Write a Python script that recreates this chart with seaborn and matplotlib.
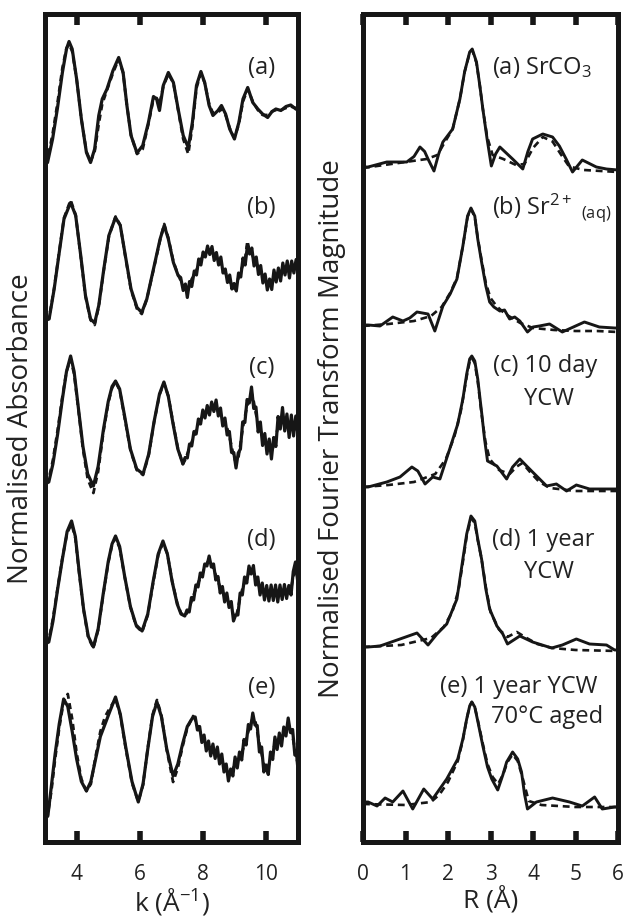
import numpy as np
import pandas as pd
import seaborn as sns
import matplotlib.pyplot as plt

sns.set_theme(style="white")
plt.rcParams['font.family'] = ['Open Sans', 'DejaVu Sans']
plt.rcParams['mathtext.fontset'] = 'custom'
plt.rcParams['mathtext.rm'] = 'Open Sans'
plt.rcParams['mathtext.it'] = 'Open Sans:italic'

ink = '#161616'

# ---------------- EXAFS (k space), chi values per sample ----------------
k_a = [3.00, 3.08, 3.24, 3.39, 3.55, 3.68, 3.76, 3.86, 4.00, 4.15, 4.31, 4.44, 4.57, 4.70, 4.81, 4.96, 5.15, 5.33, 5.47, 5.59,
       5.72, 5.91, 6.09, 6.27, 6.43, 6.53, 6.62, 6.74, 6.90, 7.06, 7.21, 7.37, 7.53, 7.66, 7.79, 7.93, 8.05, 8.19, 8.31, 8.47,
       8.58, 8.71, 8.84, 8.99, 9.13, 9.26, 9.41, 9.57, 9.73, 9.88, 10.04, 10.18, 10.30, 10.46, 10.62, 10.77, 10.93, 11.00]
chi_a = [-1.20, -1.17, -0.70, -0.10, 0.63, 1.10, 1.25, 1.10, 0.50, -0.30, -0.97, -1.17, -0.90, -0.23, 0.10, 0.30, 0.67, 0.93, 0.63, -0.03,
         -0.63, -0.98, -0.83, -0.37, 0.15, 0.10, -0.13, 0.37, 0.63, 0.43, -0.10, -0.63, -0.87, -0.37, 0.37, 0.65, 0.43, -0.03, -0.23, -0.13,
         -0.03, -0.20, -0.50, -0.70, -0.37, 0.10, 0.33, 0.03, -0.10, -0.20, -0.27, -0.15, -0.10, -0.13, -0.05, -0.02, -0.10, -0.12]
fit_a = [-1.20, -1.10, -0.60, 0.00, 0.72, 1.12, 1.20, 1.05, 0.50, -0.30, -0.95, -1.15, -0.95, -0.40, 0.00, 0.28, 0.62, 0.90, 0.62, -0.03,
         -0.62, -1.00, -0.90, -0.40, 0.10, 0.12, 0.00, 0.35, 0.60, 0.42, -0.12, -0.70, -1.00, -0.45, 0.32, 0.62, 0.42, 0.00, -0.18, -0.17,
         -0.10, -0.22, -0.48, -0.68, -0.40, 0.05, 0.30, 0.05, -0.12, -0.22, -0.22, -0.15, -0.12, -0.12, -0.08, -0.05, -0.08, -0.10]

k_b = [3.00, 3.13, 3.29, 3.45, 3.60, 3.81, 3.97, 4.13, 4.28, 4.44, 4.57, 4.70, 4.86, 5.02, 5.23, 5.38, 5.54, 5.72, 5.91, 6.06,
       6.22, 6.43, 6.64, 6.77, 6.90, 7.06, 7.21,
       7.29, 7.37, 7.44, 7.50, 7.57, 7.64, 7.72, 7.79, 7.86, 7.93, 8.00, 8.07, 8.14, 8.21, 8.28, 8.35, 8.42, 8.49, 8.56, 8.63,
       8.70, 8.77, 8.84, 8.91, 8.98, 9.05, 9.12, 9.19, 9.26, 9.33, 9.40, 9.47, 9.54, 9.61, 9.68, 9.75, 9.82, 9.89, 9.96, 10.03,
       10.10, 10.17, 10.24, 10.31, 10.38, 10.45, 10.52, 10.59, 10.66, 10.73, 10.80, 10.87, 10.94, 11.00]
chi_b = [-1.13, -1.10, -0.50, 0.23, 0.90, 1.23, 0.97, 0.17, -0.63, -1.10, -1.18, -0.83, -0.10, 0.57, 0.93, 0.77, 0.17, -0.50, -0.87, -0.97,
         -0.70, -0.10, 0.50, 0.77, 0.50, 0.03, -0.23,
         -0.27, -0.53, -0.40, -0.67, -0.35, -0.45, -0.14, -0.22, 0.10, -0.02, 0.24, 0.14, 0.36, 0.19, 0.35, 0.07, 0.23, -0.02, 0.14, -0.18,
         -0.10, -0.37, -0.22, -0.50, -0.39, -0.54, -0.18, -0.26, 0.12, -0.02, 0.36, 0.20, 0.32, -0.04, 0.14, -0.21, -0.03, -0.38, -0.20, -0.52,
         -0.30, -0.51, -0.12, -0.36, -0.08, -0.34, 0.02, -0.22, 0.06, -0.28, 0.06, -0.18, 0.09, -0.16]
fit_b = [-1.13, -1.08, -0.48, 0.25, 0.92, 1.28, 0.98, 0.15, -0.65, -1.12, -1.22, -0.85, -0.12, 0.55, 0.95, 0.78, 0.15, -0.52, -0.90, -1.00,
         -0.70, -0.12, 0.48, 0.80, 0.52, 0.05, -0.22,
         -0.33, -0.43, -0.58, -0.55, -0.45, -0.30, -0.22, -0.12, -0.02, 0.10, 0.14, 0.20, 0.28, 0.27, 0.25, 0.19, 0.13, 0.08, 0.02, -0.08,
         -0.18, -0.25, -0.36, -0.40, -0.49, -0.40, -0.28, -0.14, -0.02, 0.12, 0.46, 0.26, 0.20, 0.10, 0.02, -0.07, -0.15, -0.24, -0.32, -0.38,
         -0.44, -0.35, -0.26, -0.22, -0.24, -0.22, -0.14, -0.08, -0.10, -0.14, -0.10, -0.04, -0.05, -0.08]

k_c = [3.00, 3.12, 3.25, 3.40, 3.55, 3.68, 3.81, 3.92, 4.05, 4.20, 4.35, 4.53, 4.68, 4.85, 5.00, 5.12, 5.23, 5.36, 5.52, 5.70,
       5.90, 6.10, 6.28, 6.45, 6.62, 6.76, 6.90, 7.05, 7.20, 7.36,
       7.43, 7.50, 7.57, 7.64, 7.71, 7.78, 7.85, 7.92, 7.99, 8.06, 8.13, 8.20, 8.27, 8.34, 8.41, 8.48, 8.55, 8.62, 8.69, 8.76,
       8.83, 8.90, 8.97, 9.04, 9.11, 9.18, 9.25, 9.32, 9.39, 9.46, 9.53, 9.60, 9.67, 9.74, 9.81, 9.88, 9.95, 10.02, 10.09, 10.16,
       10.23, 10.30, 10.37, 10.44, 10.51, 10.58, 10.65, 10.72, 10.79, 10.86, 10.93, 11.00]
chi_c = [-1.20, -1.16, -0.80, -0.20, 0.50, 1.05, 1.36, 1.05, 0.35, -0.45, -1.00, -1.24, -0.85, -0.10, 0.45, 0.75, 0.86, 0.70, 0.15, -0.50,
         -0.90, -1.00, -0.60, 0.05, 0.60, 0.84, 0.55, 0.00, -0.50, -0.80,
         -0.67, -0.68, -0.40, -0.44, -0.15, -0.20, 0.10, 0.00, 0.28, 0.12, 0.37, 0.18, 0.44, 0.25, 0.48, 0.16, 0.32, -0.04, 0.12, -0.22,
         -0.15, -0.57, -0.57, -0.88, -0.58, -0.50, 0.04, 0.03, 0.49, 0.42, 0.74, 0.31, 0.34, -0.16, 0.04, -0.43, -0.19, -0.60, -0.30, -0.70,
         -0.27, -0.45, 0.15, -0.10, 0.33, -0.14, 0.20, -0.27, 0.18, -0.24, 0.16, -0.22]
fit_c = [-1.20, -1.10, -0.72, -0.12, 0.55, 1.05, 1.30, 1.00, 0.32, -0.50, -1.10, -1.38, -0.95, -0.15, 0.42, 0.72, 0.84, 0.68, 0.12, -0.52,
         -0.92, -1.02, -0.62, 0.04, 0.58, 0.82, 0.56, 0.02, -0.48, -0.80,
         -0.72, -0.60, -0.48, -0.36, -0.25, -0.12, 0.00, 0.10, 0.18, 0.22, 0.25, 0.28, 0.32, 0.35, 0.36, 0.30, 0.20, 0.10, 0.00, -0.08,
         -0.25, -0.45, -0.65, -0.78, -0.70, -0.40, -0.10, 0.15, 0.35, 0.52, 0.62, 0.45, 0.20, 0.00, -0.12, -0.25, -0.35, -0.42, -0.48, -0.54,
         -0.45, -0.25, -0.05, 0.10, 0.15, 0.08, 0.00, -0.05, -0.04, -0.02, -0.04, -0.06]

k_d = [3.00, 3.12, 3.25, 3.40, 3.55, 3.70, 3.84, 3.96, 4.08, 4.22, 4.37, 4.53, 4.68, 4.84, 5.00, 5.12, 5.23, 5.36, 5.52, 5.70,
       5.88, 6.07, 6.25, 6.42, 6.58, 6.73, 6.87, 7.02, 7.18, 7.30, 7.42,
       7.49, 7.56, 7.63, 7.70, 7.77, 7.84, 7.91, 7.98, 8.05, 8.12, 8.19, 8.26, 8.33, 8.40, 8.47, 8.54, 8.61, 8.68, 8.75, 8.82,
       8.89, 8.96, 9.03, 9.10, 9.17, 9.24, 9.31, 9.38, 9.45, 9.52, 9.59, 9.66, 9.73, 9.80, 9.87, 9.94, 10.01, 10.08, 10.15, 10.22,
       10.29, 10.36, 10.43, 10.50, 10.57, 10.64, 10.71, 10.78, 10.85, 10.92, 11.00]
chi_d = [-1.00, -0.96, -0.55, 0.10, 0.70, 1.25, 1.46, 1.15, 0.45, -0.30, -0.85, -1.06, -0.70, 0.00, 0.65, 1.00, 1.16, 0.95, 0.35, -0.25,
         -0.62, -0.74, -0.40, 0.25, 0.80, 1.06, 0.80, 0.25, -0.20, -0.40, -0.44,
         -0.32, -0.36, -0.07, -0.12, 0.18, 0.14, 0.42, 0.34, 0.60, 0.56, 0.76, 0.54, 0.60, 0.28, 0.35, 0.02, 0.15, -0.16, 0.02, -0.27,
         -0.15, -0.54, -0.42, -0.42, 0.02, -0.02, 0.34, 0.22, 0.56, 0.40, 0.57, 0.18, 0.34, -0.02, 0.22, -0.12, 0.17, -0.14, 0.18, -0.13,
         0.18, -0.16, 0.18, -0.11, 0.19, -0.09, 0.17, -0.02, 0.45, 0.64, 0.20]
fit_d = [-1.00, -0.92, -0.50, 0.12, 0.72, 1.22, 1.40, 1.12, 0.42, -0.32, -0.88, -1.08, -0.72, -0.02, 0.62, 0.98, 1.12, 0.92, 0.34, -0.26,
         -0.64, -0.76, -0.42, 0.22, 0.78, 1.02, 0.80, 0.26, -0.18, -0.38, -0.44,
         -0.38, -0.28, -0.15, -0.02, 0.10, 0.22, 0.32, 0.42, 0.52, 0.62, 0.68, 0.62, 0.50, 0.38, 0.25, 0.14, 0.05, -0.04, -0.10, -0.15,
         -0.25, -0.42, -0.48, -0.30, -0.08, 0.10, 0.22, 0.32, 0.42, 0.48, 0.45, 0.32, 0.20, 0.12, 0.08, 0.04, 0.03, 0.02, 0.02, 0.03,
         0.02, 0.00, 0.02, 0.03, 0.05, 0.05, 0.05, 0.10, 0.35, 0.50, 0.30]

k_e = [3.00, 3.09, 3.20, 3.32, 3.45, 3.59, 3.72, 3.86, 4.00, 4.15, 4.31, 4.45, 4.60, 4.75, 4.90, 5.05, 5.23, 5.38, 5.55, 5.75,
       5.95, 6.10, 6.25, 6.40, 6.54, 6.68, 6.85, 7.05, 7.20, 7.35, 7.50, 7.68,
       7.75, 7.82, 7.89, 7.96, 8.03, 8.10, 8.17, 8.24, 8.31, 8.38, 8.45, 8.52, 8.59, 8.66, 8.73, 8.80, 8.87, 8.94, 9.01, 9.08,
       9.15, 9.22, 9.29, 9.36, 9.43, 9.50, 9.57, 9.64, 9.71, 9.78, 9.85, 9.92, 9.99, 10.06, 10.13, 10.20, 10.27, 10.34, 10.41, 10.48,
       10.55, 10.62, 10.69, 10.76, 10.83, 10.90, 10.96, 11.00]
chi_e = [-1.20, -1.14, -0.55, 0.10, 0.70, 1.20, 1.05, 0.55, 0.00, -0.45, -0.64, -0.45, 0.00, 0.45, 0.70, 0.95, 1.24, 0.90, 0.25, -0.45,
         -0.86, -0.50, 0.20, 0.85, 1.14, 0.85, 0.20, -0.34, -0.10, 0.30, 0.65, 0.84,
         0.84, 0.58, 0.65, 0.33, 0.48, 0.16, 0.36, 0.06, 0.30, 0.01, 0.24, -0.10, 0.10, -0.26, -0.10, -0.44, -0.20, -0.34, 0.04, -0.18,
         0.14, -0.02, 0.39, 0.28, 0.69, 0.60, 0.92, 0.68, 0.67, 0.14, 0.24, -0.26, -0.12, -0.31, 0.14, -0.01, 0.44, 0.19, 0.52, 0.26,
         0.64, 0.46, 0.82, 0.53, 0.59, 0.08, 0.06, -0.22]
fit_e = [-1.20, -1.10, -0.65, 0.00, 0.62, 1.15, 1.30, 0.80, 0.12, -0.40, -0.64, -0.50, 0.05, 0.55, 0.85, 1.02, 1.20, 0.88, 0.22, -0.48,
         -0.85, -0.52, 0.22, 0.88, 1.18, 0.88, 0.18, -0.46, -0.18, 0.25, 0.62, 0.86,
         0.78, 0.68, 0.55, 0.45, 0.36, 0.28, 0.24, 0.20, 0.18, 0.15, 0.10, 0.04, -0.04, -0.12, -0.22, -0.30, -0.30, -0.20, -0.10, -0.04,
         0.02, 0.12, 0.25, 0.40, 0.55, 0.70, 0.82, 0.80, 0.55, 0.30, 0.10, -0.10, -0.22, -0.15, 0.00, 0.15, 0.30, 0.35, 0.38, 0.42,
         0.50, 0.60, 0.68, 0.65, 0.45, 0.20, 0.00, -0.10]

k_offsets = [14.76, 11.56, 8.36, 4.96, 1.66]
k_labels = ['(a)', '(b)', '(c)', '(d)', '(e)']
k_label_y = [15.50, 12.70, 9.50, 6.06, 3.10]

# ---------------- Fourier transform magnitude (R space) ----------------
R_a = [0.00, 0.12, 0.56, 1.03, 1.20, 1.34, 1.45, 1.53, 1.67, 1.78, 1.88, 2.11, 2.28, 2.39, 2.51, 2.57, 2.67, 2.75, 2.82, 2.92,
       3.02, 3.12, 3.22, 3.37, 3.52, 3.76, 3.88, 3.99, 4.23, 4.46, 4.62, 4.78, 4.93, 5.16, 5.49, 5.73, 6.00]
ft_a = [0.04, 0.04, 0.14, 0.14, 0.25, 0.44, 0.35, 0.20, -0.04, 0.30, 0.54, 0.80, 1.40, 1.94, 2.34, 2.40, 2.14, 1.66, 1.20, 0.60,
        0.06, 0.30, 0.44, 0.32, 0.20, 0.00, 0.35, 0.60, 0.70, 0.64, 0.46, 0.20, -0.06, 0.18, 0.04, 0.00, -0.02]
Rf_a = [0.00, 0.50, 1.00, 1.50, 1.75, 1.90, 2.11, 2.28, 2.39, 2.51, 2.57, 2.67, 2.75, 2.82, 2.92, 3.05, 3.30, 3.60, 3.80, 4.00,
        4.23, 4.46, 4.65, 4.85, 5.20, 5.60, 6.00]
ftf_a = [0.02, 0.08, 0.14, 0.20, 0.28, 0.50, 0.80, 1.40, 1.94, 2.32, 2.38, 2.12, 1.66, 1.20, 0.65, 0.28, 0.20, 0.08, 0.10, 0.42,
         0.64, 0.55, 0.30, 0.05, -0.02, -0.04, -0.06]

R_b = [0.00, 0.12, 0.40, 0.70, 0.94, 1.10, 1.27, 1.53, 1.69, 1.88, 2.05, 2.21, 2.35, 2.46, 2.54, 2.63, 2.70, 2.79, 2.89, 2.98,
       3.08, 3.22, 3.33, 3.45, 3.57, 3.69, 3.87, 4.00, 4.15, 4.39, 4.69, 4.95, 5.21, 5.56, 5.92, 6.00]
ft_b = [0.08, 0.08, 0.06, 0.24, 0.16, 0.22, 0.34, 0.30, -0.04, 0.46, 0.70, 1.00, 1.66, 2.26, 2.42, 2.26, 1.80, 1.34, 0.86, 0.54,
        0.44, 0.36, 0.38, 0.20, 0.24, 0.16, -0.06, 0.04, 0.06, 0.10, -0.06, 0.04, 0.14, 0.04, 0.02, 0.02]
Rf_b = [0.00, 0.60, 1.20, 1.60, 1.85, 2.05, 2.21, 2.35, 2.46, 2.54, 2.63, 2.70, 2.79, 2.89, 3.00, 3.15, 3.35, 3.70, 4.00, 4.50,
        5.00, 5.50, 6.00]
ftf_b = [0.06, 0.10, 0.16, 0.26, 0.44, 0.72, 1.02, 1.66, 2.24, 2.40, 2.24, 1.82, 1.38, 0.92, 0.62, 0.45, 0.30, 0.12, 0.02, -0.02,
         -0.04, -0.04, -0.06]

R_c = [0.00, 0.12, 0.56, 0.87, 1.15, 1.29, 1.46, 1.64, 1.81, 2.04, 2.23, 2.35, 2.44, 2.51, 2.56, 2.63, 2.70, 2.79, 2.86, 2.93,
       3.15, 3.38, 3.52, 3.69, 3.85, 3.99, 4.32, 4.55, 4.79, 5.02, 5.33, 5.92, 6.00]
ft_c = [0.04, 0.04, 0.14, 0.24, 0.44, 0.36, 0.10, 0.24, 0.20, 0.80, 1.30, 1.80, 2.30, 2.60, 2.66, 2.56, 2.20, 1.54, 1.00, 0.56,
        0.46, 0.20, 0.44, 0.60, 0.46, 0.34, 0.06, 0.10, -0.04, 0.08, 0.00, 0.00, 0.00]
Rf_c = [0.00, 0.60, 1.20, 1.70, 1.95, 2.15, 2.30, 2.44, 2.51, 2.56, 2.63, 2.70, 2.79, 2.88, 2.98, 3.20, 3.45, 3.62, 3.75, 3.95,
        4.15, 4.40, 5.00, 6.00]
ftf_c = [0.04, 0.08, 0.14, 0.30, 0.60, 1.05, 1.55, 2.25, 2.55, 2.62, 2.52, 2.15, 1.50, 0.95, 0.60, 0.38, 0.30, 0.45, 0.52, 0.32,
         0.14, 0.02, -0.04, -0.04]

R_d = [0.00, 0.12, 0.40, 0.87, 1.27, 1.53, 1.74, 1.97, 2.21, 2.35, 2.44, 2.54, 2.63, 2.70, 2.79, 2.89, 2.98, 3.15, 3.29, 3.40,
       3.69, 3.99, 4.44, 4.69, 5.02, 5.33, 5.73, 5.92, 6.00]
ft_d = [0.00, 0.00, 0.02, 0.16, 0.28, 0.04, 0.26, 0.46, 0.96, 1.76, 2.26, 2.62, 2.52, 2.16, 1.76, 1.16, 0.76, 0.42, 0.26, 0.06,
        0.22, 0.10, -0.02, 0.04, 0.16, 0.06, 0.04, -0.06, -0.06]
Rf_d = [0.00, 0.90, 1.60, 1.90, 2.10, 2.25, 2.35, 2.44, 2.54, 2.63, 2.70, 2.79, 2.89, 3.00, 3.20, 3.40, 3.62, 3.85, 4.10, 4.45,
        5.00, 6.00]
ftf_d = [0.00, 0.04, 0.18, 0.40, 0.70, 1.15, 1.70, 2.22, 2.58, 2.48, 2.14, 1.76, 1.20, 0.70, 0.35, 0.20, 0.30, 0.18, 0.06, -0.02,
         -0.06, -0.08]

R_e = [0.00, 0.12, 0.33, 0.52, 0.70, 0.94, 1.17, 1.43, 1.64, 1.97, 2.23, 2.35, 2.44, 2.51, 2.56, 2.63, 2.70, 2.82, 2.93, 3.03,
       3.17, 3.29, 3.38, 3.52, 3.64, 3.73, 3.80, 3.87, 4.08, 4.46, 4.86, 5.16, 5.45, 5.63, 5.92, 6.00]
ft_e = [0.10, 0.10, 0.02, 0.18, 0.10, 0.32, -0.04, 0.36, 0.16, 0.56, 0.96, 1.36, 1.76, 2.02, 2.10, 2.00, 1.72, 1.22, 0.80, 0.56,
        0.34, 0.64, 0.90, 1.10, 0.96, 0.70, 0.26, -0.04, 0.10, 0.18, 0.10, 0.02, 0.20, -0.04, 0.00, 0.00]
Rf_e = [0.00, 1.00, 1.60, 1.80, 2.00, 2.23, 2.35, 2.44, 2.51, 2.56, 2.63, 2.70, 2.82, 2.93, 3.05, 3.18, 3.30, 3.40, 3.52, 3.64,
        3.75, 3.90, 4.20, 5.00, 6.00]
ftf_e = [0.06, 0.04, 0.10, 0.25, 0.50, 0.92, 1.34, 1.76, 2.02, 2.10, 2.00, 1.74, 1.26, 0.86, 0.60, 0.46, 0.66, 0.90, 1.05, 0.92,
         0.60, 0.12, 0.04, 0.00, 0.00]

R_offsets = [13.46, 10.26, 7.06, 3.90, 0.70]

# figure
fig = plt.figure(figsize=(6.27, 9.2), dpi=100)
ax1 = fig.add_axes([45 / 627, 77 / 920, 253 / 627, 828 / 920])
ax2 = fig.add_axes([363 / 627, 77 / 920, 255 / 627, 828 / 920])

k_sets = [(k_a, chi_a, fit_a), (k_b, chi_b, fit_b), (k_c, chi_c, fit_c), (k_d, chi_d, fit_d), (k_e, chi_e, fit_e)]
for (k, dat, fit), off in zip(k_sets, k_offsets):
    sns.lineplot(x=k, y=np.array(fit) + off, ax=ax1, color=ink, lw=2.0,
                 linestyle=(0, (2.2, 1.6)), sort=False, estimator=None)
    sns.lineplot(x=k, y=np.array(dat) + off, ax=ax1, color=ink, lw=2.3,
                 sort=False, estimator=None)

R_sets = [(R_a, ft_a, Rf_a, ftf_a), (R_b, ft_b, Rf_b, ftf_b), (R_c, ft_c, Rf_c, ftf_c),
          (R_d, ft_d, Rf_d, ftf_d), (R_e, ft_e, Rf_e, ftf_e)]
for (r, dat, rf, fit), off in zip(R_sets, R_offsets):
    sns.lineplot(x=rf, y=np.array(fit) + off, ax=ax2, color=ink, lw=1.9,
                 linestyle=(0, (2.6, 1.8)), sort=False, estimator=None)
    sns.lineplot(x=r, y=np.array(dat) + off, ax=ax2, color=ink, lw=2.1,
                 sort=False, estimator=None)

for ax in (ax1, ax2):
    ax.set_ylim(0, 16.56)
    ax.set_yticks([])
    for s in ax.spines.values():
        s.set_linewidth(3.6)
        s.set_color(ink)
    ax.tick_params(axis='x', direction='in', top=True, bottom=True, length=8, width=4,
                   color=ink, labelsize=15, labelcolor='#222222', pad=15)
    ax.grid(False)

ax1.set_xlim(3, 11)
ax1.set_xticks([4, 6, 8, 10])
ax2.set_xlim(0, 6)
ax2.set_xticks([0, 1, 2, 3, 4, 5, 6])

ax1.set_xlabel(r'k (Å$^{\mathregular{-1}}$)', fontsize=19, color='#222222', labelpad=1)
ax2.set_xlabel('R (Å)', fontsize=19, color='#222222', labelpad=1)
ax1.set_ylabel('Normalised Absorbance', fontsize=20, color='#222222', va='center')
ax2.set_ylabel('Normalised Fourier Transform Magnitude', fontsize=20, color='#222222', va='center')
ax1.yaxis.set_label_coords(-24 / 253, 0.5)
ax2.yaxis.set_label_coords(-31 / 255, 0.5)

for lab, y in zip(k_labels, k_label_y):
    ax1.text(9.85, y, lab, fontsize=17, ha='center', va='center', color='#222222')

txt = dict(fontsize=17, va='center', color='#222222')
ax2.text(3.03, 15.50, r'(a) SrCO$_{\mathregular{3}}$', **txt)
ax2.text(3.03, 12.70, r'(b) Sr$^{\mathregular{2+}}$ $_{\mathregular{(aq)}}$', **txt)
ax2.text(3.05, 9.54, '(c) 10 day', **txt)
ax2.text(4.37, 8.88, 'YCW', ha='center', fontsize=17, va='center', color='#222222')
ax2.text(3.04, 6.06, '(d) 1 year', **txt)
ax2.text(4.37, 5.42, 'YCW', ha='center', fontsize=17, va='center', color='#222222')
ax2.text(1.81, 3.12, '(e) 1 year YCW', **txt)
ax2.text(3.02, 2.52, '70°C aged', **txt)

fig.savefig('out.png', dpi=100)
